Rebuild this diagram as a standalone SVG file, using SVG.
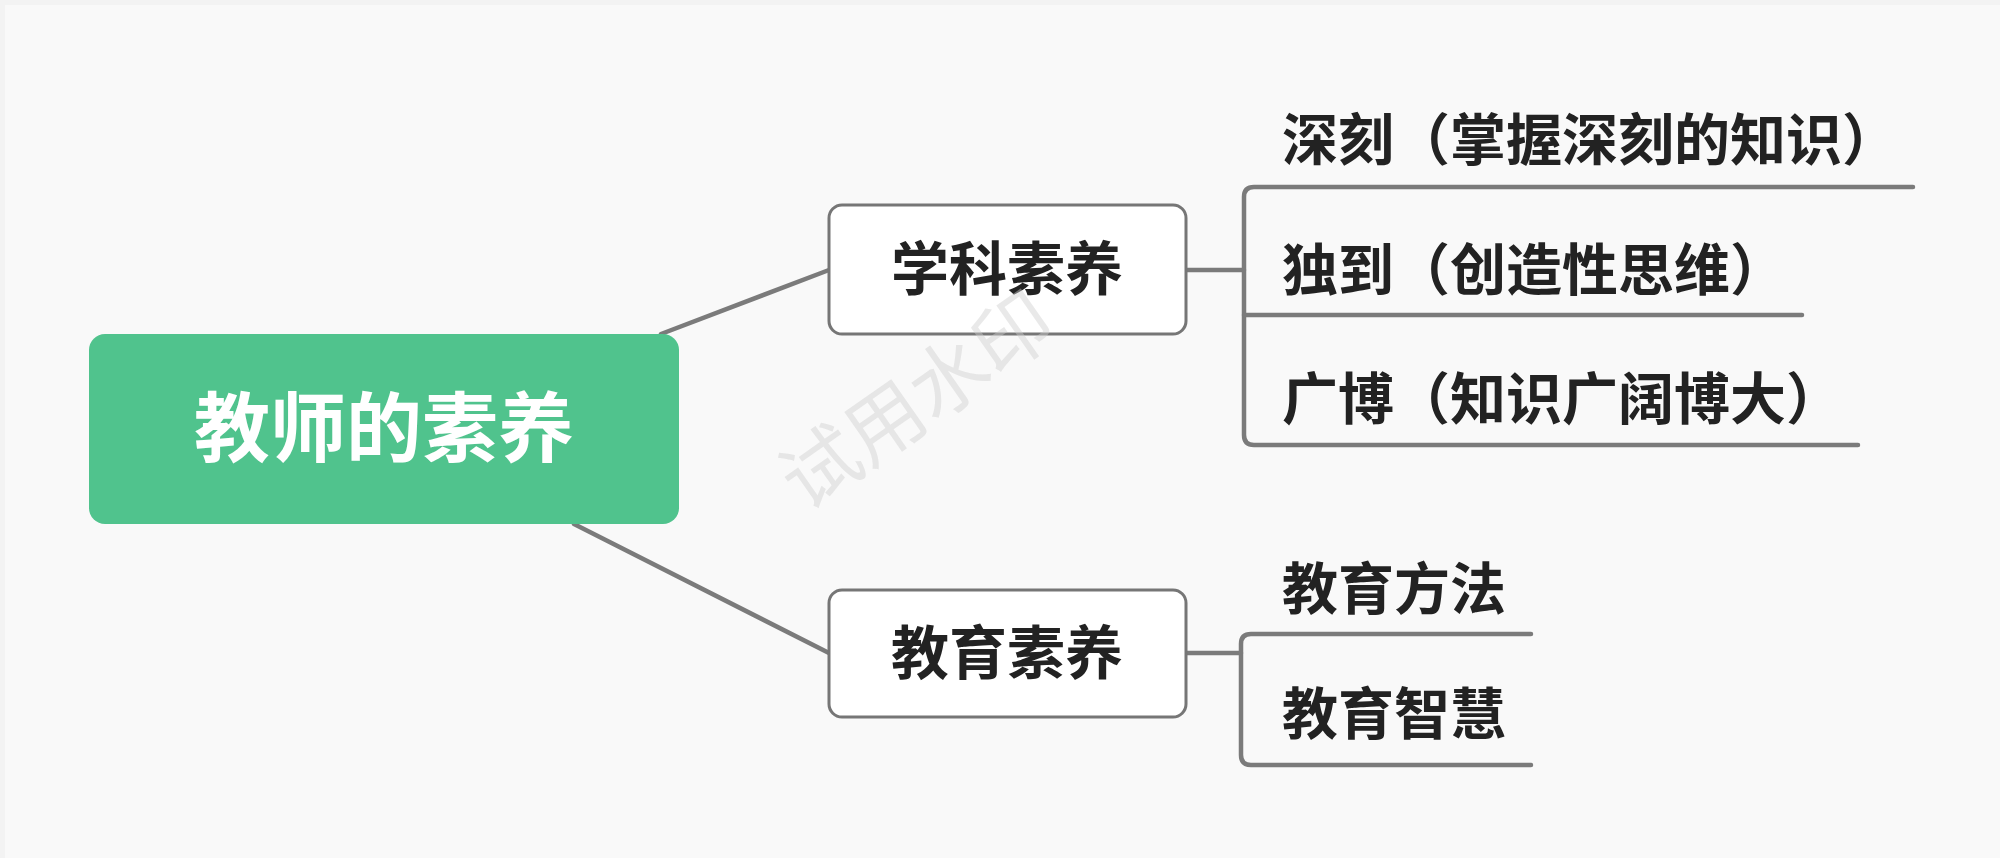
<svg xmlns="http://www.w3.org/2000/svg" width="2000" height="858" viewBox="0 0 2000 858">
<style>
.bg{fill:#f9f9f9}
.root{fill:#50c38d}
.box{fill:#ffffff;stroke:#767676;stroke-width:3}
.ln{fill:none;stroke:#7b7b7b;stroke-width:4.5;stroke-linecap:round;stroke-linejoin:round}
text{font-family:"Noto Sans CJK SC","Noto Sans",sans-serif;font-weight:bold}
.rt{fill:#ffffff;font-size:76px}
.nt{fill:#222222;font-size:58px}
.lt{fill:#222222;font-size:56px}
.wm{fill:#cfcfcf;fill-opacity:0.45;font-size:78px;font-weight:normal}
</style>
<rect x="0" y="0" width="2000" height="858" fill="#f3f3f3"/>
<rect class="bg" x="5" y="5" width="1995" height="853"/>
<g id="connectors">
<path class="ln" d="M661 334 L829 270"/>
<path class="ln" d="M574 524 L829 653"/>
<path class="ln" d="M1186 270 L1244 270"/>
<path class="ln" d="M1913 187 L1254 187 Q1244 187 1244 197 L1244 435 Q1244 445 1254 445 L1858 445"/>
<path class="ln" d="M1244 315 L1802 315"/>
<path class="ln" d="M1186 653 L1241 653"/>
<path class="ln" d="M1531 634 L1251 634 Q1241 634 1241 644 L1241 755 Q1241 765 1251 765 L1531 765"/>
</g>
<g id="root">
<rect class="root" x="89" y="334" width="590" height="190" rx="16"/>
<text class="rt" x="384" y="456" text-anchor="middle">教师的素养</text>
</g>
<g id="xueke">
<rect class="box" x="829" y="205" width="357" height="129" rx="13"/>
<text class="nt" x="1007" y="290" text-anchor="middle">学科素养</text>
</g>
<g id="jiaoyu">
<rect class="box" x="829" y="590" width="357" height="127" rx="13"/>
<text class="nt" x="1007" y="674" text-anchor="middle">教育素养</text>
</g>
<g id="shenke">
<text class="lt" x="1282" y="160">深刻（掌握深刻的知识）</text>
</g>
<g id="dudao">
<text class="lt" x="1282" y="290">独到（创造性思维）</text>
</g>
<g id="guangbo">
<text class="lt" x="1282" y="419">广博（知识广阔博大）</text>
</g>
<g id="fangfa">
<text class="lt" x="1282" y="609">教育方法</text>
</g>
<g id="zhihui">
<text class="lt" x="1282" y="734">教育智慧</text>
</g>
<text class="wm" x="918" y="428" text-anchor="middle" transform="rotate(-35 918 402)">试用水印</text>
</svg>
